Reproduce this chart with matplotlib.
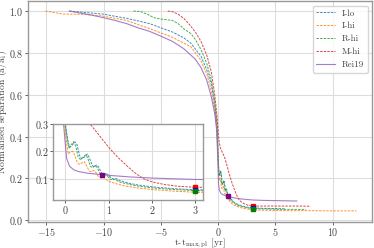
import matplotlib
matplotlib.use("Agg")
import matplotlib.pyplot as plt

plt.rcParams['font.family'] = 'serif'
plt.rcParams['font.serif'] = ['cmr10', 'DejaVu Serif']
plt.rcParams['mathtext.fontset'] = 'cm'
plt.rcParams['axes.formatter.use_mathtext'] = True
plt.rcParams['axes.unicode_minus'] = True

# I-lo
t_ilo = [-13.0, -12.0, -11.0, -10.0, -9.0, -8.0, -7.0, -6.0, -5.0, -4.0, -3.0, -2.4, -1.5, -1.0, -0.6,
         -0.3, -0.1, 0.0, 0.06, 0.1, 0.16, 0.22, 0.27, 0.33, 0.38, 0.45, 0.51, 0.56, 0.62, 0.66, 0.72,
         0.77, 0.83, 0.88, 0.94, 1.0, 1.06, 1.12, 1.18, 1.25, 1.35, 1.5, 1.7, 2.0, 2.5, 3.0, 4.0, 5.0, 5.8]
a_ilo = [1.0, 0.995, 0.99, 0.985, 0.975, 0.965, 0.953, 0.94, 0.92, 0.9, 0.872, 0.847, 0.784, 0.72, 0.65,
         0.55, 0.45, 0.30, 0.24, 0.215, 0.222, 0.235, 0.225, 0.185, 0.172, 0.18, 0.19, 0.175, 0.15, 0.142, 0.15,
         0.143, 0.122, 0.115, 0.12, 0.112, 0.102, 0.098, 0.1, 0.093, 0.088, 0.082, 0.076, 0.07, 0.063, 0.059, 0.057, 0.056, 0.055]

# I-hi
t_ihi = [-15.1, -14.0, -13.5, -12.0, -10.2, -8.0, -5.9, -4.0, -3.3, -2.4, -1.55, -1.0, -0.69, -0.3, -0.1,
         0.0, 0.04, 0.07, 0.12, 0.17, 0.22, 0.28, 0.33, 0.39, 0.44, 0.5, 0.55, 0.6, 0.66, 0.71, 0.77,
         0.83, 0.89, 0.95, 1.0, 1.1, 1.2, 1.35, 1.5, 1.7, 2.0, 2.5, 3.0, 4.0, 5.0, 6.0, 8.0, 10.0, 12.07]
a_ihi = [1.0, 0.99, 0.985, 0.985, 0.977, 0.955, 0.914, 0.875, 0.855, 0.83, 0.768, 0.70, 0.64, 0.53, 0.43,
         0.28, 0.22, 0.19, 0.198, 0.2, 0.185, 0.158, 0.152, 0.158, 0.162, 0.145, 0.128, 0.125, 0.13, 0.122, 0.106,
         0.102, 0.104, 0.096, 0.09, 0.085, 0.08, 0.074, 0.07, 0.065, 0.06, 0.054, 0.05, 0.048, 0.047, 0.046, 0.046, 0.045, 0.045]

# R-hi
t_rhi = [-7.4, -6.8, -6.2, -5.6, -5.0, -4.4, -4.0, -3.5, -3.0, -2.4, -2.0, -1.5, -1.0, -0.6, -0.3, -0.1,
         0.0, 0.05, 0.09, 0.14, 0.19, 0.24, 0.3, 0.35, 0.42, 0.48, 0.53, 0.58, 0.63, 0.69, 0.74, 0.8,
         0.86, 0.92, 0.97, 1.03, 1.1, 1.15, 1.22, 1.3, 1.4, 1.5, 1.7, 2.0, 2.5, 3.0, 4.0, 5.0, 6.0, 7.65]
a_rhi = [1.0, 0.998, 0.985, 0.968, 0.962, 0.958, 0.955, 0.94, 0.915, 0.893, 0.865, 0.816, 0.75, 0.67, 0.57, 0.46,
         0.30, 0.24, 0.21, 0.225, 0.235, 0.22, 0.178, 0.17, 0.18, 0.188, 0.17, 0.145, 0.14, 0.148, 0.14, 0.118,
         0.113, 0.118, 0.11, 0.098, 0.096, 0.098, 0.09, 0.085, 0.082, 0.078, 0.072, 0.066, 0.06, 0.056, 0.054, 0.053, 0.052, 0.052]

# M-hi
t_mhi = [-4.4, -4.0, -3.5, -3.0, -2.5, -2.0, -1.5, -1.0, -0.6, -0.3, -0.1, 0.0, 0.1, 0.2, 0.4, 0.6,
         0.8, 1.0, 1.2, 1.4, 1.6, 1.8, 2.0, 2.3, 2.6, 3.0, 4.0, 5.0, 6.0, 7.0, 8.07]
a_mhi = [1.0, 0.997, 0.985, 0.965, 0.935, 0.9, 0.855, 0.79, 0.71, 0.6, 0.5, 0.42, 0.37, 0.345, 0.32, 0.295,
         0.255, 0.215, 0.18, 0.15, 0.122, 0.1, 0.088, 0.078, 0.072, 0.068, 0.068, 0.068, 0.068, 0.068, 0.067]

# Rei19
t_rei = [-13.0, -12.0, -11.0, -10.0, -9.0, -8.0, -7.0, -6.0, -5.0, -4.0, -3.0, -2.0, -1.5, -1.0, -0.6,
         -0.3, -0.15, -0.05, 0.0, 0.03, 0.1, 0.2, 0.3, 0.5, 0.8, 1.0, 1.5, 2.0, 3.0, 4.0, 5.0, 6.0, 6.87]
a_rei = [1.0, 0.99, 0.98, 0.968, 0.955, 0.94, 0.92, 0.903, 0.88, 0.855, 0.82, 0.77, 0.73, 0.67, 0.59,
         0.51, 0.44, 0.32, 0.23, 0.175, 0.145, 0.132, 0.126, 0.12, 0.115, 0.112, 0.106, 0.102, 0.097, 0.095, 0.094, 0.093, 0.092]

# marked points
mark_t = [3.0, 3.0, 3.0, 0.85]
mark_a = [0.068, 0.059, 0.055, 0.115]
mark_c = ['red', 'blue', 'green', 'purple']

series = [
    (t_ilo, a_ilo, 'I-lo', 'tab:blue', '--'),
    (t_ihi, a_ihi, 'I-hi', 'tab:orange', '--'),
    (t_rhi, a_rhi, 'R-hi', 'tab:green', '--'),
    (t_mhi, a_mhi, 'M-hi', 'tab:red', '--'),
    (t_rei, a_rei, 'Rei19', 'tab:purple', '-'),
]

fig = plt.figure(figsize=(3.74, 2.48), dpi=100)
ax = fig.add_axes([0.074, 0.105, 0.921, 0.891])
ins = fig.add_axes([0.142, 0.194, 0.401, 0.306])

for a in (ax, ins):
    for t, v, lab, c, ls in series:
        if ls == '--':
            a.plot(t, v, color=c, lw=0.7, alpha=0.85, label=lab, dashes=(2.5, 1.2))
        else:
            a.plot(t, v, color=c, lw=0.8, alpha=0.85, label=lab)
    for mt, ma, mc in zip(mark_t, mark_a, mark_c):
        a.plot(mt, ma, 's', color=mc, ms=2.2, zorder=5)
    a.grid(True, color='#dddddd', lw=0.8)
    for s in a.spines.values():
        s.set_color('#999999')
        s.set_linewidth(1.0)
    a.tick_params(labelsize=7.2, colors='#444444', length=2, width=0.6, pad=1.0)
    a.set_axisbelow(True)

ax.set_xlim(-16.63, 13.44)
ax.set_ylim(-0.008, 1.048)
ax.set_xticks([-15, -10, -5, 0, 5, 10])
ax.set_yticks([0.0, 0.2, 0.4, 0.6, 0.8, 1.0])
ax.set_xlabel(r't-t$_{\rm max,pl}$ [yr]', fontsize=7, color='#444444')
ax.set_ylabel(r'Normalised separation (a/a$_{\rm i}$)', fontsize=7, color='#444444')
ax.xaxis.set_label_coords(0.5, -0.063)
ax.yaxis.set_label_coords(-0.053, 0.5)
ax.legend(loc='upper right', fontsize=6.5, frameon=True, handlelength=2.0, handletextpad=0.8,
          edgecolor='#cccccc', labelcolor='#444444', borderaxespad=0.5, labelspacing=0.5,
          borderpad=0.4)

ins.set_xlim(-0.28, 3.18)
ins.set_ylim(0.022, 0.3)
ins.set_xticks([0, 1, 2, 3])
ins.set_yticks([0.1, 0.2, 0.3])
ins.set_facecolor('white')

fig.savefig('out.png', dpi=100)
